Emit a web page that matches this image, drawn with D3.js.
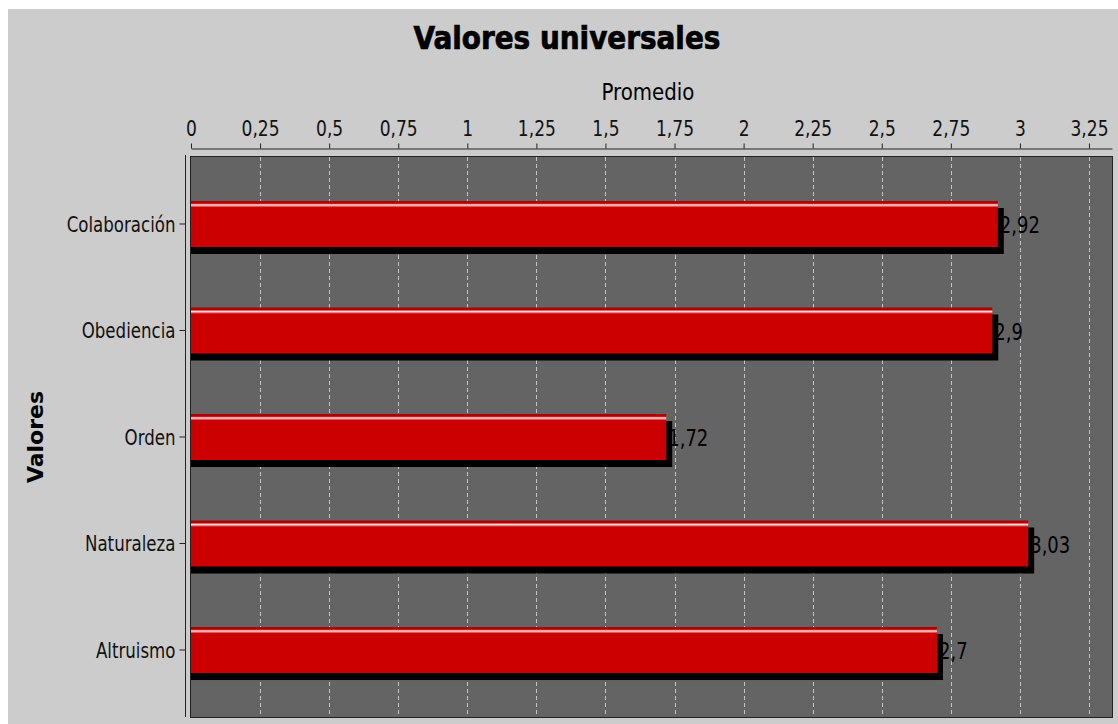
<!DOCTYPE html>
<html>
<head>
<meta charset="utf-8">
<script src="https://cdn.jsdelivr.net/npm/d3@7"></script>
<style>
  html, body { margin: 0; padding: 0; background: #ffffff; }
  svg { display: block; }
  text { font-family: "DejaVu Sans Condensed", "DejaVu Sans", sans-serif; font-stretch: condensed; }
</style>
</head>
<body>
<svg id="chart" width="1118" height="724"></svg>
<script>
const title = "Valores universales";
const xTitle = "Promedio";
const yTitle = "Valores";
const categories = ["Colaboración", "Obediencia", "Orden", "Naturaleza", "Altruismo"];
const values = [2.92, 2.9, 1.72, 3.03, 2.7];
const valueLabels = ["2,92", "2,9", "1,72", "3,03", "2,7"];
const xTicks = [0, 0.25, 0.5, 0.75, 1, 1.25, 1.5, 1.75, 2, 2.25, 2.5, 2.75, 3, 3.25];
const xMax = 3.3333;

const svg = d3.select("#chart");
const W = 1118, H = 724;
const plot = { left: 191, right: 1112, top: 157, bottom: 717 };
const FONT = '"DejaVu Sans Condensed", "DejaVu Sans", sans-serif';

// background
svg.append("rect").attr("x", 8).attr("y", 9).attr("width", W - 8).attr("height", H - 9).attr("fill", "#cccccc");

const x = d3.scaleLinear().domain([0, xMax]).range([plot.left, plot.right]);
const y = d3.scaleBand().domain(categories).range([plot.top, plot.bottom]).paddingInner(0.568).paddingOuter(0.413);

// gradient for bars
const defs = svg.append("defs");
const grad = defs.append("linearGradient").attr("id", "barGrad").attr("x1", 0).attr("y1", 0).attr("x2", 0).attr("y2", 1);
[[0, "#a80000"], [0.05, "#b80000"], [0.07, "#e88080"], [0.085, "#ffe0e0"], [0.11, "#e88080"], [0.14, "#cc0000"], [1, "#cc0000"]]
  .forEach(([o, c]) => grad.append("stop").attr("offset", o).attr("stop-color", c));
defs.append("clipPath").attr("id", "plotClip").append("rect")
  .attr("x", plot.left).attr("y", plot.top).attr("width", plot.right - plot.left).attr("height", plot.bottom - plot.top);

// plot background
svg.append("rect").attr("x", plot.left).attr("y", plot.top)
  .attr("width", plot.right - plot.left).attr("height", plot.bottom - plot.top)
  .attr("fill", "#646464");

// gridlines
svg.append("g").selectAll("line").data(xTicks.filter(d => d > 0)).join("line")
  .attr("x1", d => Math.round(x(d)) + 0.5).attr("x2", d => Math.round(x(d)) + 0.5)
  .attr("y1", plot.top).attr("y2", plot.bottom)
  .attr("stroke", "#c4c4c4").attr("stroke-width", 1).attr("stroke-dasharray", "4,3");

// bars
const data = categories.map((c, i) => ({ c, v: values[i], l: valueLabels[i] }));
const bars = svg.append("g").attr("clip-path", "url(#plotClip)");
// value labels (drawn first so the shadow overlaps them slightly)
bars.selectAll("text").data(data).join("text")
  .attr("transform", d => `translate(${x(d.v) + 2},${y(d.c) + y.bandwidth() / 2 + 1}) scale(1,1.15)`)
  .attr("dy", "0.36em").attr("font-size", 20).attr("fill", "#000")
  .text(d => d.l);
bars.selectAll("rect.shadow").data(data).join("rect").attr("class", "shadow")
  .attr("x", x(0)).attr("y", d => y(d.c) + 7)
  .attr("width", d => x(d.v) - x(0) + 6).attr("height", y.bandwidth())
  .attr("fill", "#000000");
bars.selectAll("rect.bar").data(data).join("rect").attr("class", "bar")
  .attr("x", x(0)).attr("y", d => y(d.c))
  .attr("width", d => x(d.v) - x(0)).attr("height", y.bandwidth())
  .attr("fill", "url(#barGrad)");

// plot border
svg.append("rect").attr("x", plot.left - 0.5).attr("y", plot.top - 0.5)
  .attr("width", plot.right - plot.left + 1).attr("height", plot.bottom - plot.top + 1)
  .attr("fill", "none").attr("stroke", "#222").attr("stroke-width", 1);

// top axis
const fmt = d => String(d).replace(".", ",");
const xAxis = d3.axisTop(x).tickValues(xTicks).tickFormat(fmt).tickSize(5).tickSizeOuter(0).tickPadding(7);
const gx = svg.append("g").attr("transform", "translate(0,148.5)").call(xAxis);
gx.select(".domain").attr("stroke", "#222");
gx.selectAll(".tick line").attr("stroke", "#222");
gx.selectAll(".tick text").attr("font-size", 19).attr("fill", "#111")
  .attr("y", null).attr("dy", null)
  .attr("transform", "translate(0,-12.5) scale(1,1.1)")
  .style("font-family", FONT);

// left axis
const yAxis = d3.axisLeft(y).tickSize(6).tickSizeOuter(0).tickPadding(4);
const gy = svg.append("g").attr("transform", "translate(185.5,0)").call(yAxis);
gy.select(".domain").attr("d", `M0,${plot.top - 2}V${plot.bottom}`).attr("stroke", "#222");
gy.selectAll(".tick line").attr("stroke", "#222");
gy.selectAll(".tick text").attr("font-size", 18.5).attr("fill", "#111")
  .attr("x", null).attr("transform", "translate(-10,1) scale(1,1.15)")
  .style("font-family", FONT);

// titles
svg.append("text").attr("transform", "translate(567,49) scale(1,1.05)").attr("text-anchor", "middle")
  .attr("font-size", 31).attr("font-weight", "bold").attr("fill", "#000")
  .attr("stroke", "#000").attr("stroke-width", 0.7)
  .text(title);
svg.append("text").attr("transform", "translate(648,100) scale(1,1.08)").attr("text-anchor", "middle")
  .attr("font-size", 22).attr("fill", "#000")
  .text(xTitle);
svg.append("text").attr("transform", `translate(43,437) rotate(-90)`).attr("text-anchor", "middle")
  .attr("font-size", 22).attr("font-weight", "bold").attr("fill", "#000")
  .style("font-family", '"DejaVu Sans", sans-serif').style("font-stretch", "normal")
  .text(yTitle);
</script>
</body>
</html>
